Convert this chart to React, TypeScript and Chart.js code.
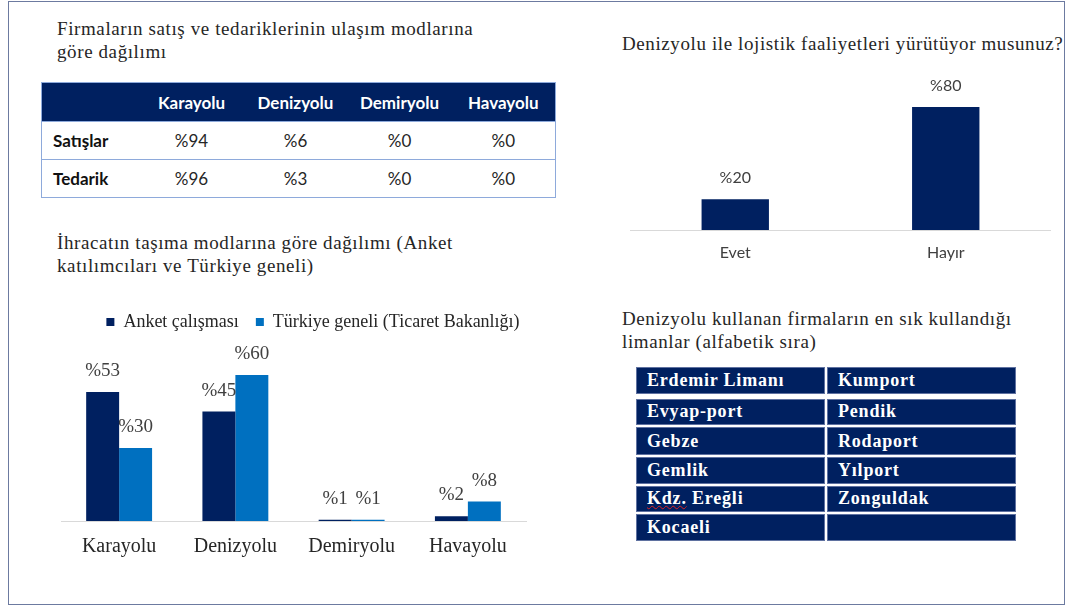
import React, { useEffect, useRef } from "react";
import { Chart, registerables } from "chart.js";

Chart.register(...registerables);

// ---------- data ----------
const tableModes = ["Karayolu", "Denizyolu", "Demiryolu", "Havayolu"];
const tableRowLabels = ["Satışlar", "Tedarik"];
const satislarValues = [94, 6, 0, 0];
const tedarikValues = [96, 3, 0, 0];

const answerLabels = ["Evet", "Hayır"];
const answerValues = [20, 80];

const exportModes = ["Karayolu", "Denizyolu", "Demiryolu", "Havayolu"];
const anketValues = [53, 45, 0.5, 2];
const turkiyeValues = [30, 60, 0.5, 8];
const seriesNames = ["Anket çalışması", "Türkiye geneli (Ticaret Bakanlığı)"];

const portsLeft = ["Erdemir Limanı", "Evyap-port", "Gebze", "Gemlik", "Kdz. Ereğli", "Kocaeli"];
const portsRight = ["Kumport", "Pendik", "Rodaport", "Yılport", "Zonguldak", ""];

const title1 = ["Firmaların satış ve tedariklerinin ulaşım modlarına", "göre dağılımı"];
const title2 = ["Denizyolu ile lojistik faaliyetleri yürütüyor musunuz?"];
const title3 = ["İhracatın taşıma modlarına göre dağılımı (Anket", "katılımcıları ve Türkiye geneli)"];
const title4 = ["Denizyolu kullanan firmaların en sık kullandığı", "limanlar (alfabetik sıra)"];

// ---------- styles ----------
const SERIF = "'Liberation Serif', 'Times New Roman', serif";
const SANS = "Lato, 'Open Sans', sans-serif";
const NAVY = "#002060";
const BLUE = "#0070C0";
const TEXT = "#262626";
const LIGHT_BORDER = "#8eaadb";

const valueLabelPlugin = (font: string, color: string, offset: number) => ({
  id: "valueLabels",
  afterDatasetsDraw(chart: any) {
    const ctx = chart.ctx;
    ctx.save();
    ctx.font = font;
    ctx.fillStyle = color;
    ctx.textAlign = "center";
    ctx.textBaseline = "middle";
    chart.data.datasets.forEach((ds: any, i: number) => {
      const meta = chart.getDatasetMeta(i);
      meta.data.forEach((bar: any, j: number) => {
        const v = ds.data[j] as number;
        ctx.fillText(`%${Math.round(v)}`, bar.x, bar.y - offset);
      });
    });
    ctx.restore();
  },
});

function AnswerChart() {
  const ref = useRef<HTMLCanvasElement>(null);
  useEffect(() => {
    if (!ref.current) return;
    const chart = new Chart(ref.current, {
      type: "bar",
      data: {
        labels: answerLabels,
        datasets: [
          {
            data: answerValues,
            backgroundColor: NAVY,
            categoryPercentage: 1,
            barPercentage: 0.32,
          },
        ],
      },
      options: {
        animation: false,
        responsive: false,
        maintainAspectRatio: false,
        layout: { padding: 0 },
        plugins: { legend: { display: false }, tooltip: { enabled: false } },
        scales: {
          x: {
            grid: { display: false, drawTicks: false },
            border: { display: true, color: "#d9d9d9", width: 1 },
            ticks: { padding: 13, color: "#404040", font: { family: SANS, size: 16 } },
            afterFit: (s: any) => {
              s.height = 40;
            },
          },
          y: { display: false, min: 0, max: 104 },
        },
      } as any,
      plugins: [valueLabelPlugin(`16px ${SANS}`, "#404040", 21)],
    });
    return () => chart.destroy();
  }, []);
  return (
    <canvas
      ref={ref}
      width={421}
      height={200}
      style={{ position: "absolute", left: 630, top: 70, width: 421, height: 200 }}
    />
  );
}

function ExportChart() {
  const ref = useRef<HTMLCanvasElement>(null);
  useEffect(() => {
    if (!ref.current) return;
    const chart = new Chart(ref.current, {
      type: "bar",
      data: {
        labels: exportModes,
        datasets: [
          {
            label: seriesNames[0],
            data: anketValues,
            backgroundColor: NAVY,
            categoryPercentage: 0.567,
            barPercentage: 1,
          },
          {
            label: seriesNames[1],
            data: turkiyeValues,
            backgroundColor: BLUE,
            categoryPercentage: 0.567,
            barPercentage: 1,
          },
        ],
      },
      options: {
        animation: false,
        responsive: false,
        maintainAspectRatio: false,
        layout: { padding: 0 },
        plugins: {
          tooltip: { enabled: false },
          legend: {
            position: "top",
            align: "center",
            labels: {
              boxWidth: 8,
              boxHeight: 8,
              padding: 17,
              color: TEXT,
              font: { family: SERIF, size: 18 },
            },
          },
        },
        scales: {
          x: {
            grid: { display: false, drawTicks: false },
            border: { display: true, color: "#d9d9d9", width: 1 },
            ticks: { padding: 14, color: TEXT, font: { family: SERIF, size: 20 } },
            afterFit: (s: any) => {
              s.height = 45;
            },
          },
          y: {
            position: "right",
            min: 0,
            max: 74,
            ticks: { display: false },
            grid: { display: false, drawTicks: false },
            border: { display: false },
            afterFit: (s: any) => {
              s.width = 39;
            },
          },
        },
      } as any,
      plugins: [valueLabelPlugin(`19px ${SERIF}`, "#404040", 21)],
    });
    return () => chart.destroy();
  }, []);
  return (
    <canvas
      ref={ref}
      width={504}
      height={270}
      style={{ position: "absolute", left: 61, top: 296, width: 504, height: 270 }}
    />
  );
}

function Title({ lines, left, top }: { lines: string[]; left: number; top: number }) {
  return (
    <div
      style={{
        position: "absolute",
        left,
        top,
        fontFamily: SERIF,
        fontSize: 19,
        lineHeight: "23px",
        letterSpacing: "0.6px",
        color: TEXT,
        whiteSpace: "nowrap",
      }}
    >
      {lines.map((l, i) => (
        <div key={i}>{l}</div>
      ))}
    </div>
  );
}

function ModeTable() {
  const rows = [satislarValues, tedarikValues];
  return (
    <table
      style={{
        position: "absolute",
        left: 41,
        top: 82,
        width: 514,
        borderCollapse: "collapse",
        tableLayout: "fixed",
        fontFamily: SANS,
        fontSize: 17,
        border: `1px solid ${LIGHT_BORDER}`,
      }}
    >
      <colgroup>
        <col style={{ width: 98 }} />
        {tableModes.map((m) => (
          <col key={m} style={{ width: 104 }} />
        ))}
      </colgroup>
      <thead>
        <tr style={{ background: NAVY, color: "#fff", height: 39 }}>
          <th style={{ padding: 0 }} />
          {tableModes.map((m) => (
            <th key={m} style={{ fontWeight: 700, padding: 0, textAlign: "center" }}>
              {m}
            </th>
          ))}
        </tr>
      </thead>
      <tbody>
        {rows.map((vals, r) => (
          <tr key={r} style={{ height: 38, borderTop: `1px solid ${LIGHT_BORDER}` }}>
            <td style={{ fontWeight: 700, paddingLeft: 11, color: "#111" }}>{tableRowLabels[r]}</td>
            {vals.map((v, c) => (
              <td key={c} style={{ textAlign: "center", color: TEXT, padding: 0 }}>
                %{v}
              </td>
            ))}
          </tr>
        ))}
      </tbody>
    </table>
  );
}

function PortName({ name }: { name: string }) {
  if (name.startsWith("Kdz.")) {
    const rest = name.slice(4);
    return (
      <span>
        <span style={{ textDecoration: "underline wavy #d22", textDecorationThickness: "1px" }}>Kdz.</span>
        {rest}
      </span>
    );
  }
  return <span>{name}</span>;
}

function PortTable() {
  const cell: React.CSSProperties = {
    background: NAVY,
    color: "#fff",
    boxSizing: "border-box",
    border: "1px solid #5f71a0",
    paddingLeft: 10,
    display: "flex",
    alignItems: "center",
    fontFamily: SERIF,
    fontWeight: 700,
    fontSize: 18,
    letterSpacing: "0.8px",
    whiteSpace: "nowrap",
  };
  return (
    <div style={{ position: "absolute", left: 636, top: 367, width: 380 }}>
      {portsLeft.map((p, i) => (
        <div
          key={i}
          style={{
            display: "flex",
            gap: 2,
            marginTop: i === 0 ? 0 : i === 1 ? 5 : 2,
            background: "#fff",
          }}
        >
          <div style={{ ...cell, width: 189, height: i === 2 ? 28 : 26.5 }}>
            <PortName name={p} />
          </div>
          <div style={{ ...cell, width: 189, height: i === 2 ? 28 : 26.5 }}>
            <PortName name={portsRight[i]} />
          </div>
        </div>
      ))}
    </div>
  );
}

export default function App() {
  return (
    <div
      style={{
        position: "absolute",
        left: 0,
        top: 0,
        width: 1069,
        height: 606,
        background: "#fff",
        overflow: "hidden",
      }}
    >
      <div
        style={{
          position: "absolute",
          left: 8,
          top: 1,
          width: 1057,
          height: 604,
          boxSizing: "border-box",
          border: "1.5px solid #6c7aa0",
        }}
      />
      <Title lines={title1} left={57} top={17} />
      <ModeTable />
      <Title lines={title2} left={622} top={32} />
      <AnswerChart />
      <Title lines={title3} left={57} top={231} />
      <ExportChart />
      <Title lines={title4} left={622} top={307} />
      <PortTable />
    </div>
  );
}
